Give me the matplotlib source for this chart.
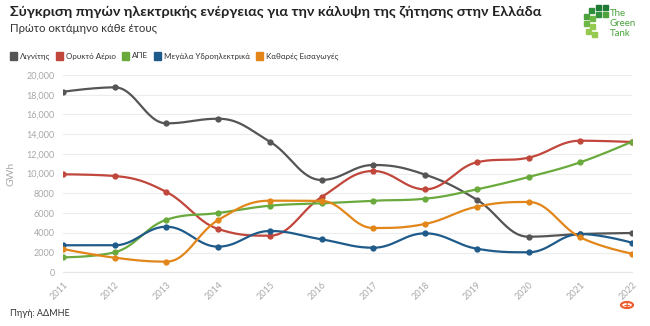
import numpy as np
import matplotlib.pyplot as plt
from matplotlib.patches import Rectangle, Circle
from matplotlib.ticker import FuncFormatter

plt.rcParams['font.family'] = ['Lato', 'DejaVu Sans']

# data (GWh, first eight months of each year)
years = ['2011', '2012', '2013', '2014', '2015', '2016',
         '2017', '2018', '2019', '2020', '2021', '2022']
lignite = [18300, 18750, 15100, 15570, 13240, 9360, 10880, 9900, 7360, 3610, 3880, 3980]
gas = [9930, 9760, 8140, 4390, 3710, 7630, 10270, 8410, 11150, 11620, 13340, 13210]
res = [1520, 2030, 5330, 6010, 6750, 6990, 7260, 7460, 8410, 9660, 11150, 13240]
hydro = [2740, 2740, 4620, 2600, 4190, 3340, 2490, 3950, 2390, 2030, 3880, 3000]
imports = [2360, 1480, 1080, 5300, 7260, 7230, 4490, 4900, 6650, 7130, 3550, 1890]

names = ['Λιγνίτης', 'Ορυκτό Αέριο', 'ΑΠΕ', 'Μεγάλα Υδροηλεκτρικά', 'Καθαρές Εισαγωγές']
series = [lignite, gas, res, hydro, imports]
colors = ['#555555', '#c1463b', '#6aaa3d', '#1f5b8a', '#e2861a']


def spline(xs, ys, n=30):
    # highcharts-like spline: bezier with smoothing 1.5
    xs = np.asarray(xs, float)
    ys = np.asarray(ys, float)
    k = len(xs)
    lcx, lcy = xs.copy(), ys.copy()
    rcx, rcy = xs.copy(), ys.copy()
    sm = 1.5
    d = sm + 1
    for i in range(1, k - 1):
        x, y = xs[i], ys[i]
        lx, ly, nx, ny = xs[i - 1], ys[i - 1], xs[i + 1], ys[i + 1]
        a = (sm * x + lx) / d
        b = (sm * y + ly) / d
        c = (sm * x + nx) / d
        e = (sm * y + ny) / d
        corr = ((e - b) * (c - x)) / (c - a) + y - e
        b += corr
        e += corr
        if b > max(ly, y):
            b = max(ly, y)
            e = 2 * y - b
        elif b < min(ly, y):
            b = min(ly, y)
            e = 2 * y - b
        if e > max(ny, y):
            e = max(ny, y)
            b = 2 * y - e
        elif e < min(ny, y):
            e = min(ny, y)
            b = 2 * y - e
        lcx[i], lcy[i], rcx[i], rcy[i] = a, b, c, e
    t = np.linspace(0, 1, n)[:, None]
    px, py = [], []
    for i in range(k - 1):
        P = np.array([[xs[i], ys[i]], [rcx[i], rcy[i]],
                      [lcx[i + 1], lcy[i + 1]], [xs[i + 1], ys[i + 1]]])
        pts = ((1 - t) ** 3 * P[0] + 3 * (1 - t) ** 2 * t * P[1]
               + 3 * (1 - t) * t ** 2 * P[2] + t ** 3 * P[3])
        px.extend(pts[:, 0])
        py.extend(pts[:, 1])
    return px, py


fig = plt.figure(figsize=(6.5, 3.26), dpi=100)
ax = fig.add_axes([63 / 650, 1 - 272.3 / 326, (632 - 63) / 650, (272.3 - 75) / 326])

x = np.arange(len(years))
for vals, col in zip(series, colors):
    sx, sy = spline(x, vals)
    ax.plot(sx, sy, color=col, lw=1.6, zorder=3, solid_capstyle='round')
    ax.plot(x, vals, 'o', color=col, ms=3.5, zorder=4)

ax.set_xlim(0, len(years) - 1)
ax.set_ylim(0, 20000)
ax.set_yticks(np.arange(0, 20001, 2000))
ax.yaxis.set_major_formatter(FuncFormatter(
    lambda v, p: f'{int(v):,}' if v >= 10000 else f'{int(v)}'))
ax.set_xticks(x)
ax.set_xticklabels(years, rotation=45, ha='right', rotation_mode='anchor')
ax.grid(axis='y', color='#ececec', lw=0.8)
ax.set_axisbelow(True)
for s in ['top', 'right', 'left']:
    ax.spines[s].set_visible(False)
ax.spines['bottom'].set_color('#e6e6e6')
ax.tick_params(axis='both', length=0, colors='#a8a8a8', labelsize=6.5)
ax.tick_params(axis='y', pad=6)
ax.tick_params(axis='x', pad=6)
ax.set_ylabel('GWh', color='#aaaaaa', fontsize=7.5, labelpad=8)

# titles
fig.text(10 / 650, 1 - 12 / 326, 'Σύγκριση πηγών ηλεκτρικής ενέργειας για την κάλυψη της ζήτησης στην Ελλάδα',
         fontsize=10.4, fontweight='bold', color='#222222', va='center')
fig.text(10 / 650, 1 - 29 / 326, 'Πρώτο οκτάμηνο κάθε έτους',
         fontsize=8.2, color='#333333', va='center')

# legend, laid out left to right by measured text width
renderer = fig.canvas.get_renderer()
cur = 10
for name, col in zip(names, colors):
    fig.patches.append(Rectangle((cur / 650, 1 - 60 / 326), 7 / 650, 8 / 326,
                                 transform=fig.transFigure, color=col))
    t = fig.text((cur + 10) / 650, 1 - 56 / 326, name, fontsize=5.8,
                 color='#333333', va='center')
    w = t.get_window_extent(renderer).width
    cur = cur + 10 + w + 6

fig.text(10 / 650, 1 - 314 / 326, 'Πηγή: ΑΔΜΗΕ', fontsize=6.5,
         color='#333333', va='center')

# logo
greens = ['#1f7a35', '#2f8f3a', '#4ea23e', '#6fb845', '#95c94f']
sq = [(596, 5), (603, 5), (589, 8), (596, 12), (603, 12), (584, 14),
      (590, 16), (584, 21), (590, 24), (586, 29), (592, 32)]
for i, (qx, qy) in enumerate(sq):
    fig.patches.append(Rectangle((qx / 650, 1 - (qy + 5) / 326), 5 / 650, 5 / 326,
                                 transform=fig.transFigure,
                                 color=greens[min(i // 2, 4)]))
for i, w in enumerate(['The', 'Green', 'Tank']):
    fig.text(610 / 650, 1 - (13 + i * 10) / 326, w, fontsize=7,
             color='#4aa43c', va='center')

# zoom icon
fig.patches.append(Circle((627 / 650, 1 - 305 / 326), 6 / 650,
                          transform=fig.transFigure, fill=False,
                          ec='#f05a28', lw=1.5))
fig.text(627 / 650, 1 - 305 / 326, '+', fontsize=8, fontweight='bold',
         color='#f05a28', ha='center', va='center')

fig.savefig('out.png', dpi=100)
